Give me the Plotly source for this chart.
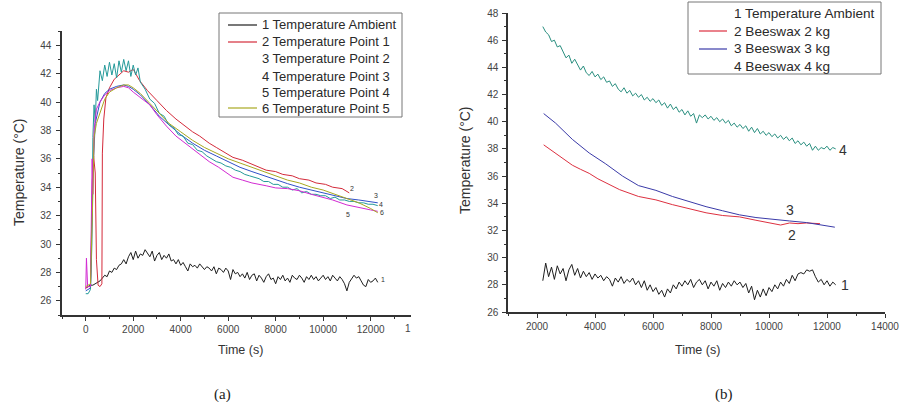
import plotly.graph_objects as go

# ---------------- data: panel (a) ----------------
amb_a_t = list(range(0, 12400, 100))
amb_a_v = [26.9, 27.0, 27.1, 27.1, 27.2, 27.3, 27.4,
           27.6, 27.8, 27.7, 28.1,
           28.0, 28.3, 28.2, 28.5, 28.6,
           28.9, 28.6, 29.1, 29.4, 28.9,
           29.5, 29.0, 29.3, 29.2, 29.6,
           29.3, 29.1, 29.5, 28.8, 29.2,
           29.4, 28.9, 29.2, 29.0, 29.3,
           28.8, 28.9, 28.6, 28.9, 28.5,
           28.7, 28.4, 28.1, 28.6, 28.4,
           28.5, 28.3, 28.6, 28.4, 28.2,
           28.4, 28.3, 28.1, 28.4, 27.9,
           28.3, 28.2, 28.0, 28.3, 28.1,
           27.5, 28.2, 27.9, 28.0, 27.7,
           27.9, 27.6, 28.0, 27.5, 27.8,
           27.9, 27.4, 27.8, 27.6, 27.3,
           27.7, 27.9, 27.5, 27.6, 27.2,
           27.7, 27.5, 27.8, 27.4, 27.6,
           27.3, 27.8, 27.6, 27.5, 27.8,
           27.6, 27.3, 27.7, 27.5, 27.8,
           27.5, 27.7, 27.4, 27.6, 27.8,
           27.5, 27.7, 27.4, 27.8, 27.6,
           27.4, 27.7, 27.5, 27.2, 26.7,
           27.3, 27.6, 27.8, 27.6, 27.7,
           27.4, 27.1, 27.0, 27.5, 27.3,
           27.4, 27.6, 27.3]

p1_t = [0, 100, 200, 280, 330, 400, 450, 520, 600, 680, 700, 760, 850, 1000, 1200,
        1400, 1600, 1800, 2000, 2270, 2600, 3000, 3400, 3800, 4100, 4500, 4800, 5200,
        5500, 5900, 6200, 6600, 6900, 7300, 7600, 8000, 8300, 8700, 9000, 9400, 9700,
        10100, 10400, 10800, 11100]
p1_v = [26.9, 27.0, 27.0, 34.5, 36.2, 35.0, 28.9, 27.1, 27.0, 27.2, 36.4, 38.8, 40.3, 41.0, 41.6,
        41.9, 42.2, 42.1, 42.3, 41.5, 40.8, 40.1, 39.4, 38.8, 38.4, 37.9, 37.6, 37.1,
        36.8, 36.4, 36.1, 35.9, 35.7, 35.4, 35.2, 35.1, 34.9, 34.8, 34.6, 34.5, 34.3,
        34.2, 34.0, 33.9, 33.6]

p2_t = [0, 100, 200, 300, 400, 600, 800, 1000, 1300, 1600, 1800, 2000, 2300, 2700, 3100,
        3500, 4000, 4500, 5000, 5500, 6000, 6500, 7000, 7500, 8000, 8500, 9000, 9500,
        10000, 10500, 11000, 11500, 12000, 12300]
p2_v = [26.7, 26.8, 26.9, 35.0, 38.5, 40.0, 40.6, 40.9, 41.1, 41.2, 41.1, 40.9, 40.5, 39.8, 39.0,
        38.4, 37.7, 37.1, 36.6, 36.2, 35.8, 35.4, 35.1, 34.8, 34.5, 34.25, 34.0, 33.8,
        33.6, 33.4, 33.2, 33.1, 32.95, 32.9]

p3_t = [0, 100, 200, 260, 300, 350, 400, 450, 500, 550, 600, 700, 800, 900, 1000, 1100,
        1200, 1300, 1400, 1500, 1600, 1700, 1800, 1900, 2000, 2100, 2200, 2300, 2500,
        2700, 2900, 3100, 3300, 3500, 3700, 3900, 4100, 4300, 4500, 4700, 4900, 5100,
        5300, 5500, 5700, 5900, 6100, 6300, 6500, 6700, 6900, 7100, 7300, 7500, 7700,
        7900, 8100, 8300, 8500, 8700, 8900, 9100, 9300, 9500, 9700, 9900, 10100, 10300,
        10500, 10700, 10900, 11100, 11300, 11500, 11700, 11900, 12100, 12300]
p3_v = [26.5, 26.5, 26.8, 30.0, 37.5, 39.8, 38.6, 40.9, 40.1, 41.5, 42.2, 41.5, 42.6, 41.8, 42.8, 41.9,
        42.7, 41.7, 42.9, 42.1, 43.0, 42.2, 42.9, 41.8, 42.6, 41.9, 42.4, 41.4, 40.9,
        40.2, 39.9, 39.2, 39.0, 38.4, 38.2, 37.7, 37.6, 37.1, 37.0, 36.6, 36.5, 36.2,
        36.0, 35.8, 35.7, 35.5, 35.4, 35.2, 35.1, 34.9, 34.8, 34.7, 34.6, 34.4, 34.4,
        34.2, 34.2, 34.0, 34.0, 33.8, 33.9, 33.6, 33.7, 33.5, 33.5, 33.4, 33.4, 33.2,
        33.3, 33.1, 33.1, 33.0, 33.0, 32.9, 32.9, 32.8, 32.8, 32.7]

p4_t = [0, 30, 80, 200, 270, 300, 350, 450, 600, 800, 1000, 1300, 1600, 1800, 2000, 2300,
        2700, 3000, 3400, 3800, 4100, 4500, 4800, 5200, 5600, 6200, 6600, 7000, 7600, 8000,
        8500, 9000, 9500, 10000, 10400, 11000, 11500, 12000, 12300]
p4_v = [26.8, 29.0, 27.0, 27.0, 36.0, 33.5, 38.0, 39.5, 40.0, 40.5, 40.8, 41.0, 41.1, 41.0, 40.7, 40.3,
        39.8, 39.1, 38.3, 37.6, 37.2, 36.7, 36.3, 35.8, 35.4, 34.7, 34.5, 34.3, 34.1, 33.95,
        33.9, 33.75, 33.5, 33.3, 33.1, 32.75, 32.55, 32.4, 32.3]

p5_t = [0, 100, 200, 300, 350, 450, 600, 800, 1000, 1300, 1600, 1800, 2000, 2300, 2700,
        3100, 3500, 4000, 4500, 5000, 5500, 6000, 6500, 7000, 7500, 8000, 8500, 9000,
        9500, 10000, 10500, 11000, 11500, 12000, 12300]
p5_v = [27.0, 27.1, 27.2, 33.5, 37.5, 38.5, 39.3, 40.2, 40.7, 41.0, 41.2, 41.2, 41.0, 40.6, 39.9,
        39.2, 38.5, 37.9, 37.3, 36.8, 36.4, 36.0, 35.7, 35.4, 35.1, 34.8, 34.5, 34.3,
        34.0, 33.8, 33.5, 33.2, 32.9, 32.5, 32.2]

names_a = ["1 Temperature Ambient", "2 Temperature Point 1", "3 Temperature Point 2",
           "4 Temperature Point 3", "5 Temperature Point 4", "6 Temperature Point 5"]
end_labels_a = ["1", "2", "3", "4", "5", "6"]
end_label_t_a = [12500, 11200, 12240, 12450, 11030, 12460]
end_label_v_a = [27.5, 33.9, 33.4, 32.8, 32.1, 32.2]

# ---------------- data: panel (b) ----------------
amb_b_t = list(range(2200, 12400, 100))
amb_b_v = [28.3, 29.6, 28.6, 29.3, 28.4, 29.4, 28.8, 29.2, 28.3, 29.1,
           29.5, 28.7, 29.2, 28.5, 29.0, 28.6, 28.9, 28.4, 28.8, 28.5,
           28.7, 28.3, 28.6, 28.4, 27.9, 28.5, 28.2, 28.6, 28.1, 28.4,
           28.2, 28.5, 28.0, 28.3, 27.8, 28.3, 27.6, 28.0, 27.5, 27.8,
           27.3, 27.6, 27.1, 27.7, 27.4, 28.0, 27.7, 28.2, 27.9, 28.3,
           28.0, 28.4, 27.8, 28.2, 28.4, 28.0, 28.3, 27.7, 28.2, 27.9,
           28.3, 27.6, 28.1, 27.8, 28.2, 27.9, 28.3, 28.0, 28.2, 27.8,
           28.1, 27.4, 27.9, 26.9, 27.6, 27.1, 27.7, 27.2, 27.8, 27.5,
           28.0, 27.7, 28.2, 27.9, 28.4, 28.1, 28.7, 28.3, 28.8, 28.9,
           28.8, 29.1, 29.0, 29.1, 28.6, 28.2, 28.4, 28.0, 28.3, 27.9,
           28.2, 28.0]

bw2_t = [2230, 2640, 3220, 3500, 3800, 4100, 4370, 4850, 5500, 6100, 6670, 7250, 7830,
         8400, 8980, 9550, 10130, 10400, 10710, 11000, 11290, 11760]
bw2_v = [38.3, 37.7, 36.8, 36.5, 36.2, 35.8, 35.5, 35.0, 34.5, 34.25, 33.9, 33.6, 33.3,
         33.1, 33.0, 32.75, 32.5, 32.4, 32.55, 32.5, 32.55, 32.5]

bw3_t = [2230, 2640, 3220, 3800, 4370, 4950, 5500, 6100, 6670, 7250, 7830, 8400, 8980,
         9550, 10130, 10700, 11290, 11760, 12270]
bw3_v = [40.6, 39.9, 38.7, 37.7, 36.9, 36.0, 35.3, 34.95, 34.5, 34.1, 33.75, 33.45, 33.15,
         32.95, 32.8, 32.7, 32.58, 32.4, 32.24]

bw4_t = list(range(2200, 12400, 100))
bw4_v = [47.0, 46.6, 46.4, 45.9, 46.0, 45.5, 45.6, 45.1, 44.7, 44.9,
         44.3, 44.6, 44.2, 43.8, 44.1, 43.6, 43.4, 43.7, 43.3, 43.5,
         43.1, 43.3, 42.9, 43.0, 42.6, 42.8, 42.4, 42.2, 42.5, 42.1,
         42.3, 41.9, 42.1, 41.8, 42.0, 41.6, 41.8, 41.5, 41.7, 41.4,
         41.6, 41.2, 41.4, 41.0, 41.3, 40.9, 41.1, 40.7, 40.9, 40.5,
         40.8, 40.4, 40.6, 39.9, 40.5, 40.3, 40.5, 40.2, 40.4, 40.1,
         40.3, 40.0, 40.2, 39.9, 40.1, 39.7, 39.9, 39.6, 39.8, 39.5,
         39.7, 39.3, 39.6, 39.2, 39.5, 39.1, 39.3, 39.0, 39.2, 38.9,
         39.1, 38.8, 39.0, 38.7, 38.9, 38.6, 38.8, 38.4, 38.6, 38.3,
         38.5, 38.2, 38.4, 37.9, 38.2, 37.9, 38.1, 38.0, 38.2, 37.9,
         38.1, 38.0]

names_b = ["1 Temperature Ambient", "2 Beeswax 2 kg", "3 Beeswax 3 kg", "4 Beeswax 4 kg"]
end_labels_b = ["1", "2", "3", "4"]
end_label_t_b = [12610, 10810, 10710, 12550]
end_label_v_b = [28.0, 31.7, 33.5, 37.9]

# ---------------- styling ----------------
W, H = 901, 402
FONT = "Arial"
colors_a = ["#1e1e1e", "#d42a3a", "#3050c8", "#259a9a", "#d22ad2", "#a8a820"]
legend_show_a = [True, True, False, False, False, True]
colors_b = ["#1e1e1e", "#dd3040", "#3a3aa8", "#2a8f80"]
legend_show_b = [False, True, True, False]

fig = go.Figure()

series_a = [(amb_a_t, amb_a_v), (p1_t, p1_v), (p2_t, p2_v), (p3_t, p3_v), (p4_t, p4_v), (p5_t, p5_v)]
for i, (t, v) in enumerate(series_a):
    fig.add_trace(go.Scatter(x=t, y=v, mode="lines", line=dict(color=colors_a[i], width=1),
                             name=names_a[i], showlegend=False, xaxis="x", yaxis="y",
                             hoverinfo="skip"))

series_b = [(amb_b_t, amb_b_v), (bw2_t, bw2_v), (bw3_t, bw3_v), (bw4_t, bw4_v)]
for i, (t, v) in enumerate(series_b):
    fig.add_trace(go.Scatter(x=t, y=v, mode="lines", line=dict(color=colors_b[i], width=1),
                             name=names_b[i], showlegend=False, xaxis="x2", yaxis="y2",
                             hoverinfo="skip"))

axis_common = dict(showgrid=False, zeroline=False, showline=True, linecolor="#333", linewidth=1.5,
                   ticks="outside", ticklen=4, tickwidth=1.2, tickcolor="#333",
                   tickfont=dict(family=FONT, size=10, color="#444"), automargin=False,
                   tickformat="d",
                   minor=dict(ticks="outside", ticklen=2, tickwidth=1, tickcolor="#333"))

fig.update_layout(
    width=W, height=H, margin=dict(l=0, r=0, t=0, b=0),
    paper_bgcolor="white", plot_bgcolor="white", showlegend=False,
    xaxis=dict(domain=[62 / W, 411 / W], range=[-1000, 13700], dtick=2000, tick0=0,
               minor_dtick=1000, anchor="y", **axis_common),
    yaxis=dict(domain=[1 - 315 / H, 1 - 31 / H], range=[25, 45], dtick=2, tick0=0,
               minor_dtick=1, anchor="x", ticklabelstandoff=3, **axis_common),
    xaxis2=dict(domain=[508 / W, 885 / W], range=[1000, 14000], dtick=2000, tick0=0,
                minor_dtick=1000, anchor="y2", **axis_common),
    yaxis2=dict(domain=[1 - 312 / H, 1 - 13 / H], range=[26, 48], dtick=2, tick0=0,
                minor_dtick=1, anchor="x2", ticklabelstandoff=2, **axis_common),
)

shapes = []
ann = []


def add_legend(box, rows_y, line_x, text_x, names, colors, show, fsize):
    x0, y0, x1, y1 = box
    shapes.append(dict(type="rect", xref="paper", yref="paper", x0=x0 / W, x1=x1 / W,
                       y0=1 - y1 / H, y1=1 - y0 / H, line=dict(color="#777", width=1),
                       fillcolor="white", layer="above"))
    for n, c, s, ry in zip(names, colors, show, rows_y):
        if s:
            shapes.append(dict(type="line", xref="paper", yref="paper",
                               x0=line_x[0] / W, x1=line_x[1] / W, y0=1 - ry / H, y1=1 - ry / H,
                               line=dict(color=c, width=1.2), layer="above"))
        ann.append(dict(x=text_x / W, y=1 - ry / H, xref="paper", yref="paper", text=n,
                        xanchor="left", yanchor="middle", showarrow=False,
                        font=dict(family=FONT, size=fsize, color="#2a2a2a")))


add_legend((219, 13, 402, 117), [25, 42, 59, 76, 92, 108], (228, 257), 260,
           names_a, colors_a, legend_show_a, 13)
add_legend((688, 2, 881, 74), [13, 31, 49, 67], (699, 727), 732,
           names_b, colors_b, legend_show_b, 13.6)

for lab, t, v in zip(end_labels_a, end_label_t_a, end_label_v_a):
    ann.append(dict(x=t, y=v, xref="x", yref="y", text=lab, showarrow=False,
                    xanchor="center", yanchor="middle",
                    font=dict(family=FONT, size=7, color="#333")))
for lab, t, v in zip(end_labels_b, end_label_t_b, end_label_v_b):
    ann.append(dict(x=t, y=v, xref="x2", yref="y2", text=lab, showarrow=False,
                    xanchor="center", yanchor="middle",
                    font=dict(family=FONT, size=14, color="#333")))


def centered(px, py, text, size, family=FONT, angle=0, color="#333"):
    return dict(x=px / W, y=1 - py / H, xref="paper", yref="paper", text=text,
                xanchor="center", yanchor="middle", textangle=angle, showarrow=False,
                font=dict(family=family, size=size, color=color))


ann += [
    centered(19, 172, "Temperature (°C)", 14, angle=-90),
    centered(241, 350, "Time (s)", 12.5),
    centered(465, 160, "Temperature (°C)", 14, angle=-90),
    centered(697, 350, "Time (s)", 12.5),
    centered(408, 328, "1", 10, color="#444"),
    centered(222, 394, "(a)", 15, family="Liberation Serif", color="#222"),
    centered(724, 394, "(b)", 15, family="Liberation Serif", color="#222"),
]
fig.update_layout(annotations=ann, shapes=shapes)

fig.write_html("out.html", config={"displayModeBar": False},
               post_script="document.body.style.margin='0';document.body.style.padding='0';"
                           "document.body.style.overflow='hidden';")
